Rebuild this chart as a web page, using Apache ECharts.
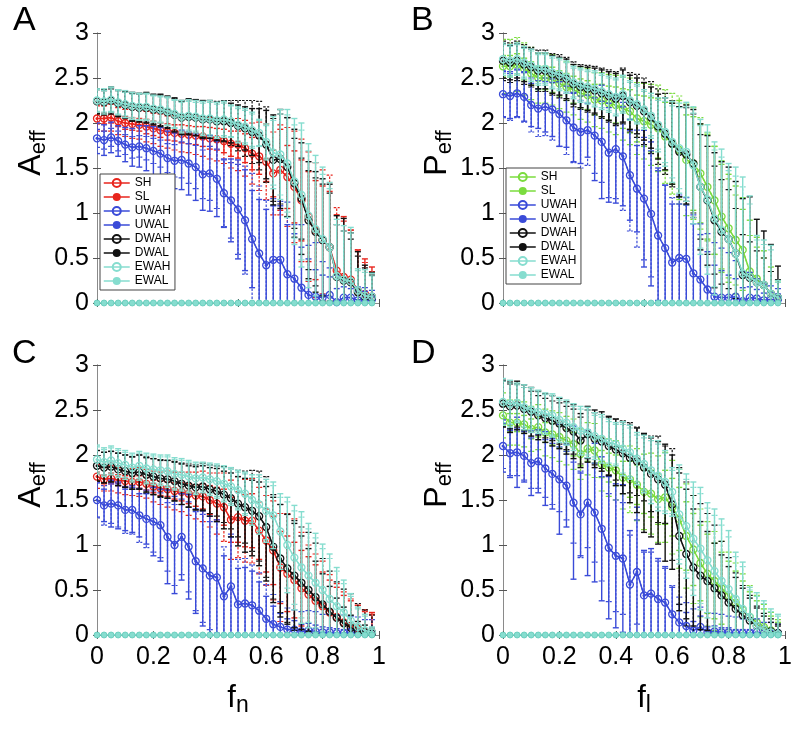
<!DOCTYPE html>
<html><head><meta charset="utf-8">
<script src="https://cdn.jsdelivr.net/npm/echarts@6/dist/echarts.min.js"></script>
<style>html,body{margin:0;padding:0;background:#fff}#c{width:796px;height:731px}</style>
</head><body><div id="c"></div>
<script>
const xs = [0,0.025,0.05,0.075,0.1,0.125,0.15,0.175,0.2,0.225,0.25,0.275,0.3,0.325,0.35,0.375,0.4,0.425,0.45,0.475,0.5,0.525,0.55,0.575,0.6,0.625,0.65,0.675,0.7,0.725,0.75,0.775,0.8,0.825,0.85,0.875,0.9,0.925,0.95,0.975];
const baseline = [0,0,0,0,0,0,0,0,0,0,0,0,0,0,0,0,0,0,0,0,0,0,0,0,0,0,0,0,0,0,0,0,0,0,0,0,0,0,0,0];
const yTickLabels = ['0','0.5','1','1.5','2','2.5','3'];
const xTickLabels = ['0','0.2','0.4','0.6','0.8','1'];
const hNames = ['SH','UWAH','DWAH','EWAH'];
const lNames = ['SL','UWAL','DWAL','EWAL'];
const legendNames = ['SH','SL','UWAH','UWAL','DWAH','DWAL','EWAH','EWAL'];

// Panel A
const A_S_m = [2.05,2.05,2.06,2.02,2.00,1.99,1.98,1.96,1.94,1.92,1.90,1.89,1.88,1.87,1.86,1.85,1.83,1.82,1.80,1.77,1.76,1.72,1.66,1.63,1.57,1.44,1.48,1.40,1.29,1.14,0.96,0.81,0.70,0.62,0.36,0.29,0.26,0.14,0.10,0.07];
const A_SH_e = [0.06,0.06,0.06,0.06,0.07,0.07,0.07,0.08,0.08,0.08,0.09,0.09,0.10,0.10,0.10,0.11,0.12,0.12,0.13,0.14,0.15,0.16,0.18,0.20,0.22,0.26,0.45,0.35,0.40,0.45,0.50,0.55,0.60,0.62,0.62,0.67,0.55,0.45,0.39,0.33];
const A_SL_e = [0.14,0.14,0.15,0.15,0.15,0.16,0.16,0.17,0.17,0.18,0.18,0.19,0.20,0.20,0.21,0.22,0.23,0.24,0.25,0.27,0.29,0.31,0.34,0.38,0.42,0.46,0.50,0.55,0.62,0.68,0.72,0.75,0.78,0.80,0.70,0.62,0.55,0.45,0.35,0.28];
const A_U_m = [1.83,1.81,1.84,1.80,1.76,1.73,1.74,1.72,1.69,1.66,1.61,1.58,1.59,1.55,1.51,1.43,1.44,1.38,1.22,1.14,1.04,0.92,0.71,0.55,0.42,0.48,0.48,0.32,0.27,0.17,0.09,0.07,0.06,0.09,0.01,0.06,0.06,0.03,0.05,0.04];
const A_UH_e = [0.17,0.17,0.17,0.17,0.19,0.21,0.23,0.25,0.27,0.29,0.30,0.31,0.33,0.35,0.37,0.40,0.42,0.42,0.38,0.46,0.55,0.56,0.54,0.60,0.62,0.60,0.60,0.55,0.50,0.45,0.40,0.30,0.25,0.20,0.15,0.12,0.10,0.10,0.08,0.06];
const A_UL_e = [0.10,0.10,0.10,0.11,0.11,0.12,0.12,0.13,0.14,0.15,0.16,0.18,0.20,0.22,0.24,0.27,0.30,0.33,0.37,0.42,0.50,0.60,0.73,0.75,0.72,0.68,0.65,0.80,0.60,0.70,0.55,0.60,0.40,0.30,0.30,0.20,0.15,0.15,0.12,0.10];
const A_D_m = [2.24,2.23,2.25,2.22,2.20,2.18,2.17,2.17,2.15,2.14,2.12,2.09,2.06,2.07,2.06,2.04,2.04,2.02,2.02,2.00,1.97,1.94,1.90,1.86,1.76,1.59,1.60,1.51,1.33,1.16,0.92,0.79,0.70,0.62,0.29,0.25,0.23,0.12,0.07,0.06];
const A_DH_lo = [0.14,0.14,0.15,0.15,0.15,0.16,0.16,0.17,0.17,0.18,0.18,0.19,0.19,0.20,0.20,0.21,0.21,0.21,0.22,0.22,0.23,0.24,0.26,0.30,0.38,0.50,0.55,0.55,0.60,0.62,0.65,0.67,0.68,0.70,0.68,0.69,0.55,0.45,0.35,0.28];
const A_DH_hi = [0.14,0.14,0.15,0.15,0.15,0.16,0.16,0.17,0.17,0.18,0.18,0.19,0.19,0.20,0.20,0.21,0.21,0.21,0.22,0.22,0.23,0.24,0.26,0.30,0.38,0.50,0.55,0.55,0.60,0.62,0.65,0.67,0.68,0.70,0.68,0.69,0.55,0.45,0.35,0.28];
const A_DL_e = [0.13,0.13,0.13,0.14,0.14,0.15,0.15,0.16,0.16,0.17,0.17,0.18,0.18,0.19,0.20,0.20,0.21,0.22,0.23,0.25,0.28,0.31,0.35,0.38,0.42,0.46,0.50,0.55,0.50,0.45,0.55,0.60,0.62,0.60,0.58,0.55,0.48,0.40,0.32,0.25];
const A_E_m = [2.25,2.24,2.26,2.23,2.21,2.19,2.18,2.18,2.16,2.15,2.13,2.10,2.07,2.08,2.07,2.05,2.05,2.03,2.04,2.02,1.98,1.96,1.92,1.89,1.79,1.67,1.65,1.55,1.35,1.20,0.97,0.82,0.71,0.62,0.30,0.26,0.24,0.14,0.08,0.07];
const A_EH_e = [0.13,0.14,0.14,0.14,0.15,0.15,0.15,0.15,0.15,0.15,0.16,0.16,0.18,0.18,0.18,0.19,0.20,0.20,0.20,0.18,0.20,0.20,0.20,0.15,0.20,0.40,0.50,0.60,0.70,0.80,0.80,0.82,0.80,0.72,0.63,0.60,0.60,0.24,0.29,0.26];
const A_EL_e = [0.12,0.12,0.13,0.13,0.13,0.13,0.14,0.14,0.14,0.14,0.15,0.15,0.16,0.16,0.16,0.17,0.18,0.18,0.18,0.17,0.18,0.18,0.18,0.14,0.18,0.36,0.45,0.54,0.63,0.72,0.72,0.74,0.72,0.65,0.57,0.54,0.54,0.22,0.26,0.23];

// Panel B
const B_S_m = [2.63,2.63,2.65,2.60,2.55,2.50,2.50,2.48,2.44,2.40,2.37,2.33,2.31,2.26,2.25,2.22,2.20,2.16,2.13,2.05,2.02,1.98,1.94,1.85,1.77,1.70,1.59,1.55,1.44,1.29,1.14,0.96,0.83,0.70,0.59,0.35,0.27,0.20,0.10,0.05];
const B_SH_e = [0.12,0.12,0.12,0.12,0.13,0.13,0.13,0.14,0.14,0.15,0.15,0.16,0.16,0.17,0.18,0.19,0.20,0.22,0.24,0.26,0.28,0.30,0.33,0.38,0.45,0.55,0.50,0.52,0.55,0.58,0.60,0.62,0.60,0.60,0.58,0.57,0.46,0.38,0.30,0.18];
const B_SL_e = [0.30,0.30,0.30,0.29,0.29,0.28,0.28,0.28,0.28,0.28,0.28,0.29,0.30,0.30,0.31,0.32,0.33,0.35,0.37,0.40,0.42,0.45,0.48,0.52,0.56,0.60,0.62,0.62,0.62,0.60,0.60,0.58,0.55,0.50,0.45,0.40,0.35,0.30,0.25,0.20];
const B_U_m = [2.32,2.30,2.33,2.29,2.20,2.16,2.18,2.15,2.10,2.03,1.95,1.90,1.92,1.86,1.79,1.67,1.71,1.63,1.42,1.27,1.16,0.99,0.75,0.61,0.45,0.50,0.49,0.33,0.26,0.15,0.07,0.06,0.06,0.07,0.02,0.06,0.05,0.03,0.04,0.04];
const B_UH_e = [0.25,0.25,0.26,0.27,0.24,0.22,0.28,0.30,0.36,0.30,0.38,0.35,0.30,0.50,0.63,0.55,0.60,0.55,0.50,0.48,0.76,0.80,0.75,0.70,0.65,0.60,0.60,0.55,0.50,0.42,0.35,0.30,0.25,0.20,0.15,0.12,0.10,0.08,0.08,0.06];
const B_UL_e = [0.26,0.27,0.27,0.28,0.30,0.31,0.32,0.34,0.36,0.38,0.39,0.40,0.39,0.42,0.45,0.50,0.55,0.60,0.62,0.65,0.68,0.70,0.72,0.70,0.72,0.70,0.68,0.65,0.62,0.62,0.60,0.55,0.50,0.40,0.33,0.28,0.22,0.18,0.15,0.12];
const B_D_m = [2.69,2.67,2.69,2.65,2.62,2.58,2.58,2.54,2.52,2.49,2.43,2.40,2.38,2.36,2.33,2.30,2.27,2.30,2.23,2.19,2.13,2.06,1.96,1.88,1.77,1.68,1.65,1.55,1.29,1.14,0.92,0.79,0.71,0.55,0.31,0.28,0.23,0.20,0.10,0.06];
const B_DH_lo = [0.19,0.19,0.19,0.19,0.20,0.20,0.20,0.21,0.21,0.22,0.22,0.23,0.24,0.25,0.26,0.27,0.28,0.29,0.30,0.31,0.32,0.34,0.36,0.40,0.45,0.50,0.55,0.60,0.70,0.72,0.75,0.78,0.80,0.80,0.85,0.90,0.70,0.60,0.55,0.35];
const B_DH_hi = [0.19,0.19,0.19,0.19,0.20,0.20,0.20,0.21,0.21,0.22,0.22,0.23,0.24,0.25,0.26,0.27,0.28,0.29,0.30,0.31,0.32,0.34,0.36,0.40,0.45,0.50,0.55,0.60,0.70,0.72,0.75,0.78,0.80,0.80,0.85,0.90,0.70,0.60,0.55,0.35];
const B_DL_e = [0.22,0.22,0.22,0.22,0.22,0.23,0.23,0.23,0.24,0.24,0.25,0.25,0.26,0.27,0.28,0.29,0.30,0.31,0.33,0.35,0.37,0.40,0.42,0.45,0.48,0.50,0.52,0.55,0.58,0.60,0.60,0.58,0.55,0.50,0.45,0.40,0.35,0.30,0.25,0.20];
const B_E_m = [2.71,2.69,2.71,2.67,2.64,2.60,2.60,2.56,2.54,2.51,2.45,2.42,2.40,2.38,2.35,2.32,2.29,2.32,2.25,2.21,2.15,2.08,1.98,1.90,1.79,1.72,1.68,1.53,1.29,1.15,0.94,0.81,0.71,0.55,0.33,0.29,0.23,0.20,0.10,0.06];
const B_EH_e = [0.18,0.18,0.18,0.18,0.18,0.18,0.18,0.18,0.18,0.18,0.18,0.19,0.19,0.20,0.20,0.20,0.21,0.21,0.22,0.22,0.22,0.25,0.30,0.38,0.45,0.50,0.55,0.65,0.75,0.83,0.85,0.90,0.84,0.96,1.07,0.90,0.52,0.50,0.54,0.19];
const B_EL_e = [0.16,0.16,0.16,0.16,0.16,0.16,0.16,0.16,0.16,0.16,0.16,0.17,0.17,0.18,0.18,0.18,0.19,0.19,0.20,0.20,0.20,0.22,0.27,0.34,0.40,0.45,0.50,0.58,0.68,0.75,0.76,0.81,0.76,0.86,0.96,0.81,0.47,0.45,0.49,0.17];

// Panel C
const C_S_m = [1.76,1.73,1.74,1.72,1.71,1.70,1.70,1.68,1.65,1.63,1.62,1.60,1.59,1.57,1.55,1.54,1.50,1.46,1.42,1.28,1.31,1.27,1.27,1.16,1.05,0.94,0.75,0.68,0.61,0.52,0.45,0.38,0.32,0.25,0.20,0.14,0.10,0.07,0.04,0.03];
const C_SH_e = [0.05,0.05,0.06,0.06,0.06,0.06,0.07,0.07,0.07,0.08,0.08,0.09,0.10,0.11,0.12,0.14,0.16,0.18,0.20,0.25,0.28,0.29,0.30,0.32,0.35,0.38,0.40,0.42,0.42,0.42,0.42,0.40,0.38,0.36,0.33,0.30,0.28,0.26,0.24,0.22];
const C_SL_e = [0.13,0.13,0.14,0.14,0.15,0.15,0.16,0.16,0.17,0.18,0.20,0.21,0.22,0.24,0.26,0.28,0.30,0.34,0.38,0.44,0.45,0.46,0.47,0.48,0.50,0.55,0.60,0.67,0.68,0.62,0.55,0.52,0.50,0.42,0.37,0.34,0.30,0.26,0.22,0.20];
const C_U_m = [1.50,1.44,1.46,1.44,1.39,1.39,1.33,1.29,1.26,1.22,1.09,1.00,1.09,0.98,0.82,0.74,0.66,0.64,0.43,0.54,0.34,0.35,0.33,0.27,0.18,0.12,0.09,0.06,0.06,0.04,0.05,0.04,0.03,0.03,0.02,0.02,0.03,0.02,0.02,0.02];
const C_UH_e = [0.19,0.18,0.26,0.26,0.23,0.25,0.24,0.28,0.38,0.40,0.52,0.54,0.48,0.58,0.58,0.64,0.66,0.64,0.45,0.55,0.40,0.40,0.38,0.32,0.25,0.20,0.15,0.12,0.10,0.08,0.08,0.07,0.06,0.05,0.05,0.04,0.04,0.04,0.03,0.03];
const C_UL_e = [0.20,0.22,0.22,0.24,0.26,0.27,0.30,0.32,0.34,0.36,0.38,0.45,0.42,0.50,0.55,0.60,0.60,0.62,0.55,0.58,0.50,0.50,0.45,0.42,0.38,0.33,0.28,0.24,0.22,0.22,0.22,0.22,0.20,0.20,0.20,0.20,0.18,0.18,0.15,0.15];
const C_D_m = [1.88,1.86,1.87,1.84,1.82,1.80,1.81,1.78,1.76,1.74,1.73,1.71,1.68,1.66,1.64,1.65,1.62,1.60,1.56,1.52,1.46,1.42,1.38,1.32,1.20,0.98,0.85,0.74,0.66,0.58,0.50,0.42,0.34,0.26,0.19,0.13,0.08,0.05,0.03,0.02];
const C_DH_lo = [0.17,0.17,0.17,0.18,0.18,0.18,0.19,0.19,0.20,0.20,0.21,0.22,0.23,0.24,0.25,0.27,0.30,0.34,0.38,0.43,0.47,0.50,0.50,0.55,0.60,0.62,0.65,0.62,0.58,0.52,0.46,0.40,0.34,0.28,0.22,0.18,0.14,0.10,0.08,0.06];
const C_DH_hi = [0.17,0.17,0.17,0.18,0.18,0.18,0.19,0.19,0.20,0.20,0.21,0.21,0.22,0.22,0.23,0.23,0.24,0.25,0.26,0.28,0.30,0.32,0.34,0.38,0.45,0.55,0.60,0.60,0.58,0.52,0.46,0.40,0.34,0.28,0.22,0.18,0.14,0.10,0.08,0.06];
const C_DL_e = [0.17,0.17,0.17,0.18,0.18,0.18,0.19,0.20,0.20,0.21,0.21,0.22,0.23,0.24,0.25,0.26,0.27,0.28,0.31,0.34,0.37,0.40,0.45,0.50,0.56,0.58,0.60,0.60,0.61,0.62,0.64,0.60,0.51,0.45,0.40,0.38,0.38,0.30,0.25,0.20];
const C_E_m = [1.95,1.92,1.94,1.91,1.89,1.86,1.88,1.85,1.84,1.83,1.82,1.79,1.78,1.76,1.74,1.75,1.73,1.71,1.68,1.65,1.61,1.57,1.50,1.45,1.38,1.33,1.15,1.00,0.86,0.75,0.66,0.58,0.50,0.40,0.32,0.25,0.16,0.09,0.05,0.03];
const C_EH_e = [0.16,0.16,0.16,0.16,0.16,0.16,0.16,0.17,0.17,0.17,0.18,0.18,0.18,0.18,0.18,0.17,0.18,0.19,0.20,0.21,0.22,0.24,0.28,0.33,0.35,0.37,0.42,0.53,0.58,0.62,0.58,0.55,0.51,0.50,0.43,0.36,0.30,0.22,0.18,0.06];
const C_EL_e = [0.14,0.14,0.14,0.14,0.14,0.14,0.14,0.15,0.15,0.15,0.16,0.16,0.16,0.16,0.16,0.15,0.16,0.17,0.18,0.19,0.20,0.22,0.25,0.30,0.32,0.33,0.38,0.48,0.52,0.56,0.52,0.50,0.46,0.45,0.39,0.32,0.27,0.20,0.16,0.05];

// Panel D
const D_S_m = [2.44,2.36,2.36,2.34,2.29,2.31,2.25,2.23,2.20,2.16,2.12,2.01,2.07,2.05,1.90,1.86,1.83,1.75,1.73,1.67,1.59,1.57,1.51,1.53,1.42,1.29,1.10,0.95,0.80,0.68,0.60,0.52,0.44,0.36,0.28,0.20,0.14,0.09,0.05,0.02];
const D_SH_e = [0.10,0.10,0.10,0.10,0.11,0.11,0.11,0.12,0.12,0.12,0.13,0.13,0.14,0.14,0.15,0.16,0.17,0.18,0.20,0.22,0.24,0.26,0.28,0.30,0.32,0.35,0.38,0.40,0.42,0.44,0.42,0.40,0.38,0.35,0.32,0.28,0.24,0.20,0.16,0.12];
const D_SL_e = [0.25,0.25,0.25,0.25,0.25,0.25,0.26,0.26,0.27,0.27,0.28,0.28,0.29,0.30,0.30,0.32,0.33,0.35,0.37,0.40,0.42,0.45,0.48,0.50,0.52,0.55,0.58,0.60,0.60,0.58,0.55,0.52,0.48,0.44,0.40,0.35,0.30,0.25,0.20,0.15];
const D_U_m = [2.10,2.02,2.03,1.99,1.91,1.93,1.85,1.79,1.73,1.66,1.47,1.34,1.47,1.36,1.18,0.97,0.88,0.85,0.56,0.70,0.44,0.46,0.40,0.36,0.23,0.14,0.10,0.05,0.09,0.03,0.04,0.03,0.03,0.02,0.02,0.02,0.03,0.02,0.02,0.02];
const D_UH_e = [0.29,0.27,0.39,0.29,0.36,0.35,0.41,0.39,0.61,0.46,0.85,0.46,0.81,0.77,0.80,0.79,0.80,0.82,0.60,0.72,0.50,0.50,0.45,0.40,0.30,0.20,0.15,0.10,0.12,0.06,0.06,0.05,0.05,0.04,0.04,0.04,0.04,0.03,0.03,0.03];
const D_UL_e = [0.25,0.25,0.26,0.27,0.28,0.30,0.32,0.34,0.36,0.38,0.45,0.48,0.50,0.55,0.58,0.60,0.62,0.62,0.55,0.58,0.48,0.46,0.42,0.38,0.32,0.28,0.26,0.24,0.22,0.22,0.20,0.20,0.18,0.18,0.16,0.15,0.15,0.12,0.12,0.10];
const D_D_m = [2.57,2.54,2.55,2.51,2.48,2.44,2.41,2.38,2.35,2.30,2.26,2.16,2.23,2.18,2.15,2.10,2.06,2.02,1.97,1.93,1.86,1.79,1.73,1.67,1.45,1.10,0.90,0.75,0.66,0.60,0.52,0.44,0.36,0.29,0.22,0.16,0.10,0.06,0.04,0.02];
const D_DH_lo = [0.26,0.29,0.27,0.27,0.27,0.27,0.27,0.28,0.28,0.29,0.30,0.30,0.31,0.32,0.33,0.33,0.40,0.45,0.50,0.57,0.72,0.70,0.72,0.85,0.72,0.83,0.72,0.65,0.60,0.55,0.50,0.45,0.40,0.35,0.30,0.25,0.20,0.15,0.10,0.08];
const D_DH_hi = [0.26,0.27,0.27,0.27,0.27,0.27,0.27,0.28,0.28,0.29,0.30,0.30,0.31,0.32,0.33,0.33,0.34,0.35,0.36,0.37,0.38,0.40,0.42,0.45,0.55,0.70,0.72,0.65,0.60,0.55,0.50,0.45,0.40,0.35,0.30,0.25,0.20,0.15,0.10,0.08];
const D_DL_e = [0.25,0.25,0.24,0.24,0.23,0.22,0.22,0.22,0.23,0.24,0.25,0.26,0.27,0.29,0.30,0.32,0.34,0.36,0.39,0.38,0.37,0.42,0.48,0.43,0.62,0.76,0.80,0.80,0.80,0.75,0.70,0.60,0.50,0.40,0.33,0.28,0.22,0.18,0.14,0.10];
const D_E_m = [2.59,2.57,2.58,2.53,2.50,2.48,2.46,2.44,2.39,2.36,2.31,2.27,2.25,2.21,2.18,2.14,2.12,2.07,2.03,1.96,1.90,1.83,1.77,1.70,1.59,1.34,1.21,1.07,0.96,0.83,0.71,0.60,0.51,0.40,0.29,0.20,0.10,0.06,0.03,0.01];
const D_EH_e = [0.26,0.26,0.22,0.25,0.25,0.24,0.23,0.24,0.25,0.25,0.26,0.27,0.28,0.26,0.27,0.26,0.24,0.30,0.30,0.29,0.32,0.37,0.39,0.35,0.27,0.55,0.58,0.63,0.68,0.64,0.69,0.69,0.65,0.52,0.52,0.33,0.37,0.32,0.26,0.22];
const D_EL_e = [0.23,0.23,0.20,0.22,0.22,0.22,0.21,0.22,0.22,0.22,0.23,0.24,0.25,0.23,0.24,0.23,0.22,0.27,0.27,0.26,0.29,0.33,0.35,0.32,0.24,0.50,0.52,0.57,0.61,0.58,0.62,0.62,0.58,0.47,0.47,0.30,0.33,0.29,0.23,0.20];

const FONT = 'Liberation Sans';
const RED = '#e8251d', GREEN = '#7bdc3e', BLUE = '#3a4bd8', BLACK = '#111111', CYAN = '#86ddcf';

// each group: [lowerErr, upperErr] for the H bars; L bars symmetric
const panels = [
  {id:'A', left:97, top:33, sColor:RED, yName:'A', xName:null, xInt:0.5, legend:{left:100, top:174},
   m:[A_S_m,A_U_m,A_D_m,A_E_m],
   eHlo:[A_SH_e,A_UH_e,A_DH_lo,A_EH_e], eHhi:[A_SH_e,A_UH_e,A_DH_hi,A_EH_e],
   eL:[A_SL_e,A_UL_e,A_DL_e,A_EL_e], title:{left:13, top:4}},
  {id:'B', left:503, top:33, sColor:GREEN, yName:'P', xName:null, xInt:0.5, legend:{left:506, top:168},
   m:[B_S_m,B_U_m,B_D_m,B_E_m],
   eHlo:[B_SH_e,B_UH_e,B_DH_lo,B_EH_e], eHhi:[B_SH_e,B_UH_e,B_DH_hi,B_EH_e],
   eL:[B_SL_e,B_UL_e,B_DL_e,B_EL_e], title:{left:411, top:4}},
  {id:'C', left:97, top:365, sColor:RED, yName:'A', xName:'n', xInt:0.2, legend:null,
   m:[C_S_m,C_U_m,C_D_m,C_E_m],
   eHlo:[C_SH_e,C_UH_e,C_DH_lo,C_EH_e], eHhi:[C_SH_e,C_UH_e,C_DH_hi,C_EH_e],
   eL:[C_SL_e,C_UL_e,C_DL_e,C_EL_e], title:{left:12, top:337}},
  {id:'D', left:503, top:365, sColor:GREEN, yName:'P', xName:'l', xInt:0.2, legend:null,
   m:[D_S_m,D_U_m,D_D_m,D_E_m],
   eHlo:[D_SH_e,D_UH_e,D_DH_lo,D_EH_e], eHhi:[D_SH_e,D_UH_e,D_DH_hi,D_EH_e],
   eL:[D_SL_e,D_UL_e,D_DL_e,D_EL_e], title:{left:411, top:337}}
];

function labelFmt(labels){
  return function(v){
    const f = labels.find(l => Math.abs(parseFloat(l) - v) < 1e-9);
    return f === undefined ? '' : f;
  };
}

function errRender(color, dotted){
  return function(params, api){
    const x = api.value(0), m = api.value(1), eLo = api.value(2), eHi = api.value(3);
    let lo = m - eLo, hi = m + eHi;
    const capLo = lo >= 0, capHi = hi <= 3;
    lo = Math.max(lo, 0); hi = Math.min(hi, 3);
    const pLo = api.coord([x, lo]), pHi = api.coord([x, hi]);
    const w = 3;
    const style = {stroke: color, lineWidth: dotted ? 1.2 : 1.4, lineDash: dotted ? [2.5, 1.5] : null, fill: null};
    const ch = [{type:'line', shape:{x1:pLo[0], y1:pLo[1], x2:pHi[0], y2:pHi[1]}, style: style}];
    if (capHi) ch.push({type:'line', shape:{x1:pHi[0]-w, y1:pHi[1], x2:pHi[0]+w, y2:pHi[1]}, style: style});
    if (capLo) ch.push({type:'line', shape:{x1:pLo[0]-w, y1:pLo[1], x2:pLo[0]+w, y2:pLo[1]}, style: style});
    return {type:'group', children: ch};
  };
}

const option = {
  animation: false,
  backgroundColor: '#fff',
  textStyle: {fontFamily: FONT},
  title: [], grid: [], xAxis: [], yAxis: [], series: [], legend: []
};

panels.forEach((p, g) => {
  option.title.push({text: p.id, left: p.title.left, top: p.title.top, padding: 0,
    textStyle: {fontSize: 34, fontWeight: 'normal', color: '#000', fontFamily: FONT}});
  option.grid.push({left: p.left, top: p.top, width: 282, height: 270});
  const axLine = {show: true, lineStyle: {color: '#8a8a8a', width: 1}};
  const tick = {show: true, inside: true, length: 4, lineStyle: {color: '#555'}};
  option.xAxis.push({
    gridIndex: g, type: 'value', min: 0, max: 1, interval: p.xInt, position: 'bottom',
    axisLine: axLine, axisTick: tick, splitLine: {show: false},
    axisLabel: {show: !!p.xName, fontSize: 25, color: '#000', margin: 10, fontFamily: FONT, formatter: labelFmt(xTickLabels)},
    name: p.xName ? '{a|f}{b|' + p.xName + '}' : '', nameLocation: 'middle', nameGap: 44,
    nameTextStyle: {rich: {
      a: {fontSize: 31, lineHeight: 38, color: '#000', fontFamily: FONT},
      b: {fontSize: 23, lineHeight: 21, verticalAlign: 'bottom', color: '#000', fontFamily: FONT}
    }}
  });
  option.xAxis.push({
    gridIndex: g, type: 'value', min: 0, max: 1, interval: p.xInt, position: 'top',
    axisLine: axLine, axisTick: tick, splitLine: {show: false}, axisLabel: {show: false}
  });
  option.yAxis.push({
    gridIndex: g, type: 'value', min: 0, max: 3, interval: 0.5, position: 'left',
    axisLine: axLine, axisTick: tick, splitLine: {show: false},
    axisLabel: {fontSize: 25, color: '#000', margin: 8, fontFamily: FONT, formatter: labelFmt(yTickLabels)},
    name: '{a|' + p.yName + '}{b|eff}', nameLocation: 'middle', nameRotate: 90, nameGap: 46,
    nameTextStyle: {padding: [0, 0, 0, 30], rich: {
      a: {fontSize: 32, lineHeight: 38, color: '#000', fontFamily: FONT},
      b: {fontSize: 22, lineHeight: 21, verticalAlign: 'bottom', color: '#000', fontFamily: FONT}
    }}
  });
  option.yAxis.push({
    gridIndex: g, type: 'value', min: 0, max: 3, interval: 0.5, position: 'right',
    axisLine: axLine, axisTick: tick, splitLine: {show: false}, axisLabel: {show: false}
  });
  const xi = 2 * g, yi = 2 * g;
  const colors = [p.sColor, BLUE, BLACK, CYAN];
  for (let k = 0; k < 4; k++) {
    const c = colors[k];
    const mean = p.m[k];
    option.series.push({type: 'custom', xAxisIndex: xi, yAxisIndex: yi, z: 2 + 4 * k, clip: true,
      renderItem: errRender(c, false), encode: {x: 0, y: 1},
      data: xs.map((x, i) => [x, mean[i], p.eHlo[k][i], p.eHhi[k][i]])});
    option.series.push({type: 'line', name: p.id + ':' + hNames[k], xAxisIndex: xi, yAxisIndex: yi, z: 3 + 4 * k,
      data: xs.map((x, i) => [x, mean[i]]), symbol: 'circle', symbolSize: 7,
      itemStyle: {color: 'rgba(255,255,255,0)', borderColor: c, borderWidth: 1.3},
      lineStyle: {color: c, width: 1.5}, emphasis: {disabled: true}});
    option.series.push({type: 'custom', xAxisIndex: xi, yAxisIndex: yi, z: 4 + 4 * k, clip: true,
      renderItem: errRender(c, true), encode: {x: 0, y: 1},
      data: xs.map((x, i) => [x, mean[i], p.eL[k][i], p.eL[k][i]])});
    option.series.push({type: 'line', name: p.id + ':' + lNames[k], xAxisIndex: xi, yAxisIndex: yi, z: 5 + 4 * k,
      data: xs.map((x, i) => [x, mean[i]]), symbol: 'circle', symbolSize: 3,
      itemStyle: {color: c}, lineStyle: {color: c, width: 1.2, type: [2, 2]}, emphasis: {disabled: true}});
  }
  option.series.push({type: 'line', name: p.id + ':base', xAxisIndex: xi, yAxisIndex: yi, z: 20,
    data: xs.map((x, i) => [x, baseline[i]]), symbol: 'circle', symbolSize: 6,
    itemStyle: {color: CYAN, borderColor: '#5fc9b8', borderWidth: 0.8},
    lineStyle: {color: CYAN, width: 1.5}, emphasis: {disabled: true}});
  if (p.legend) {
    option.legend.push({
      data: legendNames.map(n => p.id + ':' + n),
      formatter: n => n.split(':')[1],
      orient: 'vertical', left: p.legend.left, top: p.legend.top,
      padding: [3, 4, 3, 3], itemGap: 2, itemWidth: 26, itemHeight: 10,
      lineStyle: {type: 'solid', width: 1.5},
      textStyle: {fontSize: 12, color: '#000', fontFamily: FONT},
      backgroundColor: '#fff', borderColor: '#444', borderWidth: 1, z: 100, selectedMode: false
    });
  }
});

const chart = echarts.init(document.getElementById('c'), null, {renderer: 'canvas'});
chart.setOption(option);
</script>
</body></html>
